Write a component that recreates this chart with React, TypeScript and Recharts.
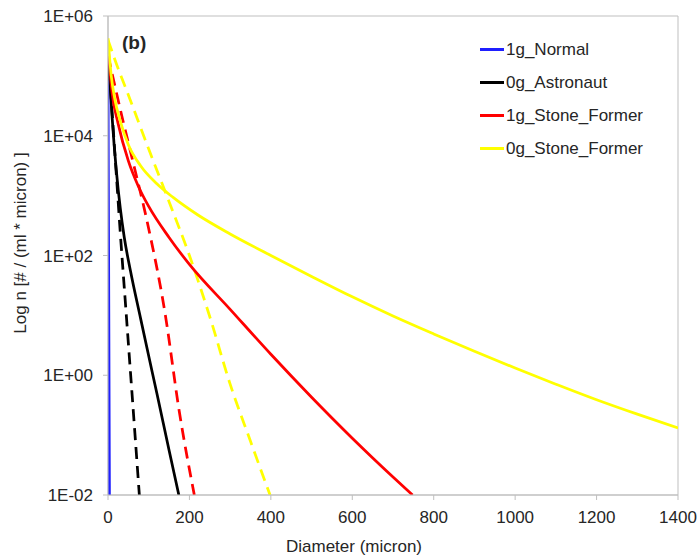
import { Legend, Line, LineChart, ReferenceArea, XAxis, YAxis } from "recharts";

// diameter (micron) vs n (# / (ml * micron))
const normal1g = [
  { d: 0, n: 1.3e5 },
  { d: 1.5, n: 1e2 },
  { d: 3.5, n: 1e-2 },
];

const astronaut0g = [
  { d: 0, n: 3.02e5 },
  { d: 5, n: 7.59e4 },
  { d: 10, n: 2.09e4 },
  { d: 15, n: 7.08e3 },
  { d: 20, n: 2.82e3 },
  { d: 25, n: 1.26e3 },
  { d: 30, n: 6.31e2 },
  { d: 40, n: 2e2 },
  { d: 55, n: 56 },
  { d: 80, n: 8.9 },
  { d: 100, n: 2.09 },
  { d: 120, n: 0.5 },
  { d: 150, n: 0.056 },
  { d: 174, n: 0.01 },
];

const astronaut0gFit = [
  { d: 0, n: 2.8e5 },
  { d: 10, n: 2.5e4 },
  { d: 20, n: 2.5e3 },
  { d: 30, n: 2.5e2 },
  { d: 45, n: 10 },
  { d: 60, n: 0.4 },
  { d: 77, n: 0.01 },
];

const stone1g = [
  { d: 0, n: 3.16e5 },
  { d: 10, n: 5.25e4 },
  { d: 25, n: 1.58e4 },
  { d: 50, n: 3.8e3 },
  { d: 75, n: 1.41e3 },
  { d: 100, n: 6.6e2 },
  { d: 150, n: 2e2 },
  { d: 200, n: 71 },
  { d: 300, n: 12.6 },
  { d: 400, n: 2.24 },
  { d: 500, n: 0.43 },
  { d: 600, n: 0.089 },
  { d: 700, n: 0.02 },
  { d: 748, n: 0.01 },
];

const stone1gFit = [
  { d: 0, n: 2.2e5 },
  { d: 35, n: 2e4 },
  { d: 60, n: 4e3 },
  { d: 95, n: 4e2 },
  { d: 140, n: 11 },
  { d: 175, n: 0.25 },
  { d: 212, n: 0.01 },
];

const stone0g = [
  { d: 0, n: 4.27e5 },
  { d: 8, n: 1e5 },
  { d: 17, n: 3.98e4 },
  { d: 30, n: 1.78e4 },
  { d: 50, n: 7.08e3 },
  { d: 80, n: 3.16e3 },
  { d: 120, n: 1.58e3 },
  { d: 160, n: 9.33e2 },
  { d: 220, n: 4.79e2 },
  { d: 300, n: 2.29e2 },
  { d: 400, n: 1e2 },
  { d: 500, n: 44.7 },
  { d: 600, n: 20.4 },
  { d: 700, n: 9.77 },
  { d: 800, n: 4.9 },
  { d: 900, n: 2.51 },
  { d: 1000, n: 1.32 },
  { d: 1100, n: 0.71 },
  { d: 1200, n: 0.39 },
  { d: 1300, n: 0.224 },
  { d: 1400, n: 0.132 },
];

const stone0gFit = [
  { d: 0, n: 4e5 },
  { d: 17, n: 1.86e5 },
  { d: 50, n: 4.8e4 },
  { d: 100, n: 6e3 },
  { d: 150, n: 7.9e2 },
  { d: 200, n: 1e2 },
  { d: 250, n: 9.5 },
  { d: 300, n: 0.71 },
  { d: 350, n: 0.079 },
  { d: 398, n: 0.01 },
];

const xTicks = [0, 200, 400, 600, 800, 1000, 1200, 1400];
const yTicks = [0.01, 1, 100, 1e4, 1e6];
const yTickLabels = ["1E-02", "1E+00", "1E+02", "1E+04", "1E+06"];

const legendNames = ["1g_Normal", "0g_Astronaut", "1g_Stone_Former", "0g_Stone_Former"];
const legendColors = ["#1f1fff", "#000000", "#ff0000", "#ffff00"];

const axisGray = "#bfbfbf";
const textColor = "#262626";

function LegendBox() {
  return (
    <div>
      {legendNames.map((name, i) => (
        <div key={name} style={{ display: "flex", alignItems: "center", height: 33 }}>
          <div style={{ width: 24, height: 3, background: legendColors[i], marginRight: 2 }} />
          <span style={{ fontSize: 17, color: textColor, whiteSpace: "nowrap" }}>{name}</span>
        </div>
      ))}
    </div>
  );
}

export default function App() {
  return (
    <div
      style={{
        position: "fixed",
        left: 0,
        top: 0,
        width: 699,
        height: 557,
        background: "#fff",
        fontFamily: '"Liberation Sans", Arial, sans-serif',
      }}
    >
      <LineChart width={699} height={557} margin={{ top: 16, right: 21, left: 0, bottom: 0 }}>
        <XAxis
          dataKey="d"
          type="number"
          domain={[0, 1400]}
          ticks={xTicks}
          allowDataOverflow
          height={62}
          tickSize={5}
          tickMargin={11}
          tick={{ fill: textColor, fontSize: 17 }}
          tickLine={{ stroke: axisGray }}
          axisLine={{ stroke: axisGray }}
          label={{
            content: () => (
              <text x={354} y={552} textAnchor="middle" fill={textColor} fontSize={17}>
                Diameter (micron)
              </text>
            ),
          }}
        />
        <YAxis
          dataKey="n"
          scale="log"
          domain={[0.01, 1e6]}
          ticks={yTicks}
          allowDataOverflow
          width={108}
          tickSize={5}
          tickMargin={10}
          tickFormatter={(v: number) => yTickLabels[yTicks.indexOf(v)] ?? ""}
          tick={{ fill: textColor, fontSize: 17 }}
          tickLine={{ stroke: axisGray }}
          axisLine={{ stroke: axisGray }}
          label={{
            content: () => (
              <text
                x={20}
                y={243}
                transform="rotate(-90, 20, 243)"
                textAnchor="middle"
                dominantBaseline="central"
                fill={textColor}
                fontSize={17}
              >
                Log n [# / (ml * micron) ]
              </text>
            ),
          }}
        />
        <ReferenceArea
          x1={0}
          x2={1400}
          y1={0.01}
          y2={1e6}
          fill="none"
          stroke={axisGray}
          strokeWidth={1}
          ifOverflow="visible"
        />
        <Legend
          layout="vertical"
          align="center"
          verticalAlign="middle"
          wrapperStyle={{ top: 33, left: 480, width: 200 }}
          content={() => <LegendBox />}
        />
        <Line data={normal1g} dataKey="n" name="1g_Normal" type="linear" stroke="#1f1fff" strokeWidth={2.75} dot={false} isAnimationActive={false} />
        <Line data={astronaut0gFit} dataKey="n" type="monotone" stroke="#000000" strokeWidth={2.75} strokeDasharray="12 7" dot={false} legendType="none" isAnimationActive={false} />
        <Line data={stone1gFit} dataKey="n" type="monotone" stroke="#ff0000" strokeWidth={2.75} strokeDasharray="12 7" dot={false} legendType="none" isAnimationActive={false} />
        <Line data={stone0gFit} dataKey="n" type="monotone" stroke="#ffff00" strokeWidth={2.75} strokeDasharray="12 7" dot={false} legendType="none" isAnimationActive={false} />
        <Line data={astronaut0g} dataKey="n" name="0g_Astronaut" type="monotone" stroke="#000000" strokeWidth={2.75} dot={false} isAnimationActive={false} />
        <Line data={stone1g} dataKey="n" name="1g_Stone_Former" type="monotone" stroke="#ff0000" strokeWidth={2.75} dot={false} isAnimationActive={false} />
        <Line data={stone0g} dataKey="n" name="0g_Stone_Former" type="monotone" stroke="#ffff00" strokeWidth={2.75} dot={false} isAnimationActive={false} />
      </LineChart>
      <div
        style={{
          position: "absolute",
          left: 122,
          top: 33,
          fontSize: 19,
          fontWeight: "bold",
          lineHeight: "20px",
          color: textColor,
        }}
      >
        (b)
      </div>
    </div>
  );
}
